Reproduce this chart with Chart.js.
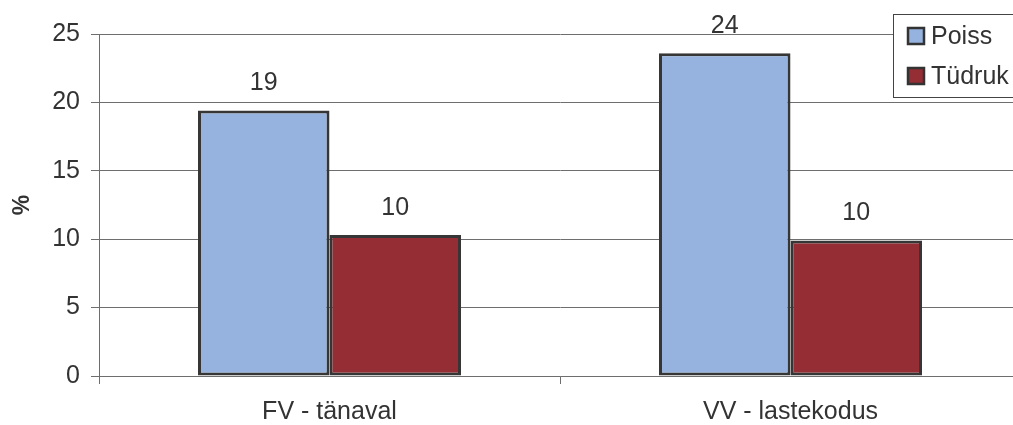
<!DOCTYPE html>
<html><head><meta charset="utf-8">
<script src="https://cdn.jsdelivr.net/npm/chart.js@4/dist/chart.umd.min.js"></script>
<style>html,body{margin:0;padding:0;background:#fff;overflow:hidden;}
#wrap{position:relative;width:1022px;height:425px;}
</style></head><body><div id="wrap"><canvas id="c"></canvas></div>
<script>
const categories = ['FV - tänaval', 'VV - lastekodus'];
const seriesNames = ['Poiss', 'Tüdruk'];
const poiss = [19.4, 23.6];
const tudruk = [10.3, 9.9];
const yTicks = [0, 5, 10, 15, 20, 25];
const yTitle = '%';

const FONT = 'Liberation Sans, Arial, sans-serif';
const TXT = '#333333';
const GRID = '#6e6e6e';

const valueLabels = {
  id: 'valueLabels',
  afterDatasetsDraw(chart) {
    const ctx = chart.ctx;
    ctx.save();
    ctx.font = '25px ' + FONT;
    ctx.fillStyle = TXT;
    ctx.textAlign = 'center';
    ctx.textBaseline = 'middle';
    chart.data.datasets.forEach((ds, i) => {
      chart.getDatasetMeta(i).data.forEach((bar, j) => {
        ctx.fillText(String(Math.round(ds.data[j])), bar.x, bar.y - 27);
      });
    });
    ctx.restore();
  }
};

const boxLegend = {
  id: 'boxLegend',
  afterDraw(chart) {
    const ctx = chart.ctx;
    ctx.save();
    const x = 893.5, y = 14.5, w = 140, h = 83;
    ctx.fillStyle = '#fff';
    ctx.fillRect(x, y, w, h);
    ctx.strokeStyle = '#444';
    ctx.lineWidth = 1;
    ctx.strokeRect(x, y, w, h);
    ctx.font = '25px ' + FONT;
    ctx.textBaseline = 'middle';
    ctx.textAlign = 'left';
    chart.data.datasets.forEach((ds, i) => {
      const cy = 36 + i * 40;
      ctx.fillStyle = ds.backgroundColor;
      ctx.fillRect(908, cy - 8, 16, 16);
      ctx.strokeStyle = '#333';
      ctx.lineWidth = 2.5;
      ctx.strokeRect(908, cy - 8, 16, 16);
      ctx.fillStyle = TXT;
      ctx.fillText(ds.label, 931, cy + 1);
    });
    ctx.restore();
  }
};

new Chart(document.getElementById('c'), {
  type: 'bar',
  data: {
    labels: categories,
    datasets: [
      { label: seriesNames[0], data: poiss, backgroundColor: '#95b3de', borderColor: '#363636', borderWidth: 3, borderSkipped: false },
      { label: seriesNames[1], data: tudruk, backgroundColor: '#952d34', borderColor: '#363636', borderWidth: 3, borderSkipped: false }
    ]
  },
  options: {
    responsive: true,
    maintainAspectRatio: false,
    animation: false,
    devicePixelRatio: 1,
    layout: { padding: { top: 34, right: 1, left: 0, bottom: 0 } },
    datasets: { bar: { categoryPercentage: 0.5705, barPercentage: 1 } },
    plugins: { legend: { display: false }, tooltip: { enabled: false } },
    scales: {
      x: {
        offset: true,
        grid: { display: true, drawOnChartArea: false, drawTicks: true, tickLength: 8, color: GRID, offset: true },
        border: { display: true, color: GRID, width: 1 },
        ticks: { font: { family: FONT, size: 25 }, color: TXT, padding: 13 },
        afterFit(s) { s.height = 49; }
      },
      y: {
        min: 0, max: 25,
        afterBuildTicks(s) { s.ticks = yTicks.map(v => ({ value: v })); },
        grid: { color: GRID, tickLength: 8, lineWidth: 1 },
        border: { display: true, color: GRID, width: 1 },
        ticks: { font: { family: FONT, size: 25 }, color: TXT, padding: 11 },
        title: { display: true, text: yTitle, font: { family: FONT, size: 23, weight: 'bold' }, color: TXT, padding: { top: 9, bottom: 0 } },
        afterFit(s) { s.width = 99; }
      }
    }
  },
  plugins: [valueLabels, boxLegend]
});
</script></body></html>
